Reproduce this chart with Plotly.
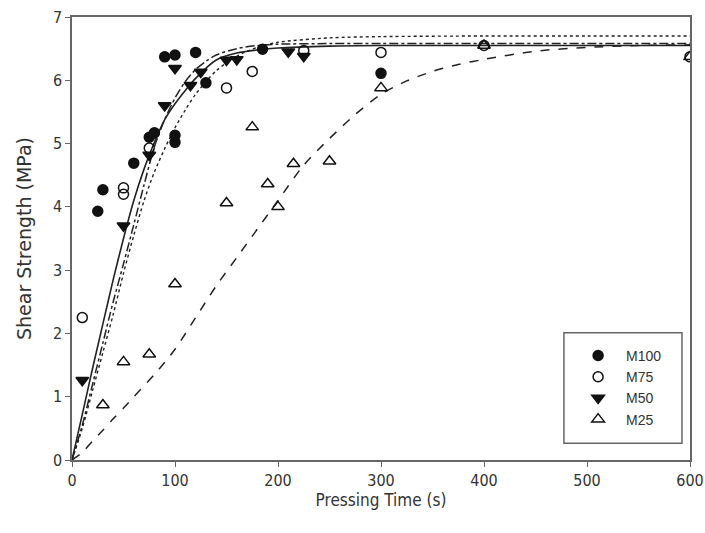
import plotly.graph_objects as go

# ---- data ----
m100_t = [25, 30, 60, 75, 80, 90, 100, 100, 100, 120, 130, 185, 300]
m100_s = [3.93, 4.27, 4.69, 5.10, 5.17, 6.37, 6.40, 5.13, 5.02, 6.44, 5.96, 6.49, 6.11]

m75_t = [10, 50, 50, 75, 150, 175, 225, 300, 400, 600]
m75_s = [2.25, 4.30, 4.20, 4.93, 5.88, 6.14, 6.47, 6.44, 6.55, 6.37]

m50_t = [10, 50, 75, 90, 100, 115, 125, 150, 160, 210, 225]
m50_s = [1.26, 3.70, 4.82, 5.60, 6.19, 5.92, 6.13, 6.32, 6.33, 6.45, 6.38]

m25_t = [30, 50, 75, 100, 150, 175, 190, 200, 215, 250, 300, 400, 600]
m25_s = [0.87, 1.55, 1.67, 2.78, 4.06, 5.26, 4.36, 4.00, 4.68, 4.72, 5.88, 6.55, 6.37]

# fitted curves
fit1_t = [0, 10, 20, 30, 40, 50, 60, 70, 80, 90, 100, 110, 120, 140, 160, 180, 200, 250, 300, 400, 500, 600]
fit1_s = [0, 0.72, 1.45, 2.15, 2.85, 3.50, 4.10, 4.60, 5.02, 5.38, 5.63, 5.84, 6.03, 6.32, 6.43, 6.48, 6.51, 6.54, 6.55, 6.55, 6.55, 6.55]

fit2_t = [0, 10, 20, 30, 40, 50, 60, 70, 80, 90, 100, 110, 120, 130, 140, 160, 180, 200, 250, 300, 400, 500, 600]
fit2_s = [0, 0.55, 1.20, 1.85, 2.50, 3.10, 3.72, 4.35, 4.95, 5.38, 5.72, 5.98, 6.17, 6.30, 6.40, 6.50, 6.55, 6.57, 6.58, 6.58, 6.58, 6.58, 6.58]

fit3_t = [0, 10, 20, 30, 40, 50, 60, 70, 80, 90, 100, 110, 120, 140, 160, 180, 200, 250, 300, 400, 500, 600]
fit3_s = [0, 0.50, 1.10, 1.70, 2.30, 2.95, 3.55, 4.10, 4.55, 4.92, 5.25, 5.53, 5.78, 6.15, 6.38, 6.52, 6.60, 6.67, 6.69, 6.70, 6.70, 6.70]

fit4_t = [0, 10, 20, 30, 40, 50, 60, 80, 100, 120, 140, 160, 180, 200, 225, 250, 275, 300, 325, 350, 375, 400, 450, 500, 550, 600]
fit4_s = [0, 0.12, 0.30, 0.47, 0.65, 0.82, 1.00, 1.35, 1.75, 2.25, 2.75, 3.20, 3.65, 4.10, 4.66, 5.08, 5.46, 5.78, 5.99, 6.14, 6.25, 6.33, 6.46, 6.52, 6.55, 6.56]

x_ticks = [0, 100, 200, 300, 400, 500, 600]
y_ticks = [0, 1, 2, 3, 4, 5, 6, 7]

LINE = "#222222"
NARROW = "Liberation Sans Narrow, DejaVu Sans Condensed, Liberation Sans, Arial"
fig = go.Figure()

for t, s, dash, w in [(fit1_t, fit1_s, "solid", 1.6), (fit2_t, fit2_s, "dashdot", 1.5),
                      (fit3_t, fit3_s, "dot", 1.4), (fit4_t, fit4_s, "dash", 1.5)]:
    fig.add_trace(go.Scatter(x=t, y=s, mode="lines", showlegend=False, hoverinfo="skip",
                             line=dict(color=LINE, width=w, dash=dash, shape="spline", smoothing=0.8)))

marker_line = dict(color="#111111", width=1.5)
fig.add_trace(go.Scatter(x=m100_t, y=m100_s, mode="markers", name="M100",
                         marker=dict(symbol="circle", size=10, color="#111111", line=marker_line)))
fig.add_trace(go.Scatter(x=m75_t, y=m75_s, mode="markers", name="M75",
                         marker=dict(symbol="circle-open", size=10, color="#111111", line=marker_line)))
fig.add_trace(go.Scatter(x=m50_t, y=m50_s, mode="markers", name="M50",
                         marker=dict(symbol="triangle-down", size=11, color="#111111", line=marker_line)))
fig.add_trace(go.Scatter(x=m25_t, y=m25_s, mode="markers", name="M25",
                         marker=dict(symbol="triangle-up-open", size=11, color="#111111", line=marker_line)))

axis_common = dict(showgrid=False, zeroline=False, showline=True, linecolor="#666666", linewidth=1.5,
                   mirror=True, ticks="outside", ticklen=5, tickcolor="#666666", tickwidth=1.2,
                   automargin=False, ticklabeloverflow="allow",
                   tickfont=dict(family=NARROW, size=16, color="#333333"))

fig.update_layout(
    width=705, height=533,
    margin=dict(l=72, r=15, t=17, b=73),
    paper_bgcolor="white", plot_bgcolor="white",
    font=dict(family=NARROW, color="#333333"),
    xaxis=dict(range=[0, 600], tickvals=x_ticks,
               title=dict(text="Pressing Time (s)", font=dict(family=NARROW, size=17, color="#333333"), standoff=2),
               **axis_common),
    yaxis=dict(range=[0, 7], tickvals=y_ticks,
               title=dict(text="Shear Strength (MPa)", font=dict(family="DejaVu Sans, Liberation Sans", size=19, color="#333333"), standoff=16),
               **axis_common),
    legend=dict(x=0.806, y=0.271, xanchor="left", yanchor="top",
                borderwidth=0, bgcolor="rgba(0,0,0,0)",
                font=dict(family="Liberation Sans, Arial", size=14, color="#333333"),
                itemwidth=46, tracegroupgap=0),
    shapes=[dict(type="rect", xref="paper", yref="paper", x0=0.796, x1=0.987, y0=0.038, y1=0.287,
                 line=dict(color="#666666", width=1.5), fillcolor="rgba(0,0,0,0)", layer="above")],
)

fig.write_html("out.html", config={"displayModeBar": False},
               post_script="document.body.style.margin='0';document.body.style.overflow='hidden';")
